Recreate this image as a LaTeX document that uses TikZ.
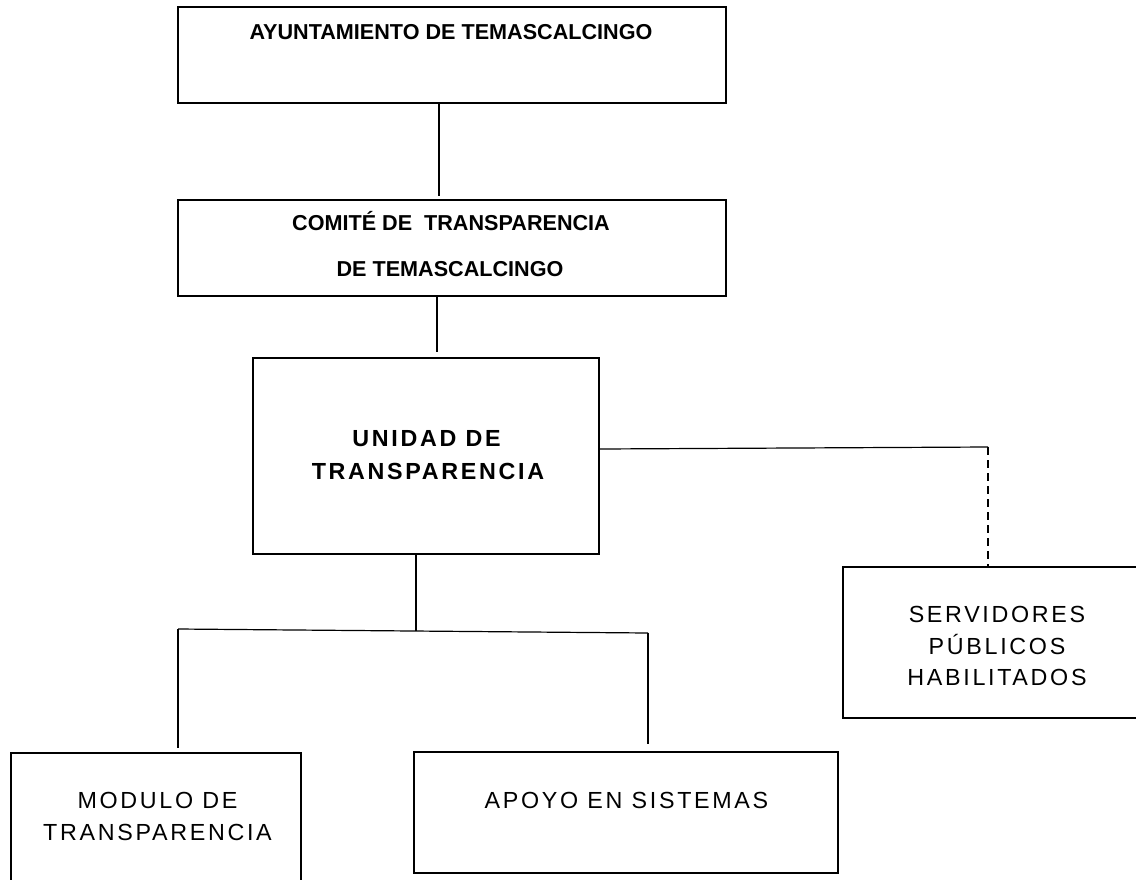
\documentclass[tikz,border=0pt]{standalone}
\usepackage{fontspec}
\setmainfont{Liberation Sans}
\newfontfamily\spaced[LetterSpace=11.5]{Liberation Sans}
\begin{document}
\begin{tikzpicture}[x=1pt,y=-1pt,
  thinbox/.style={draw=black, line width=1.3pt, inner sep=0pt, fill=none},
  thickbox/.style={draw=black, line width=2pt, inner sep=0pt, fill=none},
  conn/.style={draw=black, line width=1.2pt},
  dashconn/.style={draw=black, line width=1.5pt, dash pattern=on 8pt off 5pt},
  boldlab/.style={anchor=base, inner sep=0pt, font=\fontsize{21.6pt}{26pt}\selectfont\bfseries},
  spbold/.style={anchor=base, inner sep=0pt, font=\spaced\fontsize{23.3pt}{28pt}\selectfont\bfseries},
  splab/.style={anchor=base, inner sep=0pt, font=\spaced\fontsize{23.3pt}{28pt}\selectfont}]
\useasboundingbox (0,0) rectangle (1136,879);
\fill[white] (0,0) rectangle (1136,879);
\clip (0,0) rectangle (1136,879);

% boxes
\node[thinbox, minimum width=548pt, minimum height=96pt] (b1) at (452,55) {};
\node[thinbox, minimum width=548pt, minimum height=96pt] (b2) at (452,248) {};
\node[thickbox, minimum width=346pt, minimum height=196pt] (b3) at (426,456) {};
\node[thickbox, minimum width=303pt, minimum height=151pt] (serv) at (994.5,642.5) {};
\node[thickbox, minimum width=290pt, minimum height=142pt] (mod) at (156,824) {};
\node[thickbox, minimum width=424pt, minimum height=121pt] (apo) at (626,812.5) {};

% labels
\node[boldlab] (t1) at (451,39) {AYUNTAMIENTO DE TEMASCALCINGO};
\node[boldlab] (t2a) at (451,230) {COMITÉ DE\ \ TRANSPARENCIA};
\node[boldlab] (t2b) at (450,276) {DE TEMASCALCINGO};
\node[spbold] (t3a) at (426.5,446) {UNIDAD DE};
\node[spbold] (t3b) at (428,479) {TRANSPARENCIA};
\node[splab] (s1) at (997,622) {SERVIDORES};
\node[splab] (s2) at (997,654) {PÚBLICOS};
\node[splab] (s3) at (997,685) {HABILITADOS};
\node[splab] (m1) at (157.5,808) {MODULO DE};
\node[splab] (m2) at (157.5,840) {TRANSPARENCIA};
\node[splab] (a1) at (626.5,808) {APOYO EN SISTEMAS};

% junction coordinates
\coordinate (c1) at (439,0);
\coordinate (c2) at (437,0);
\coordinate (h3) at (988,447);
\coordinate (j4) at (416,631);
\coordinate (hL) at (178,629);
\coordinate (hR) at (648,633);

% connectors
\draw[conn] (b1.south -| c1) -- ([yshift=3pt]b2.north -| c1);
\draw[conn] (b2.south -| c2) -- ([yshift=5pt]b3.north -| c2);
\draw[conn] ([yshift=7pt]b3.east) -- (h3);
\draw[dashconn] (h3) -- (serv.north -| h3);
\draw[conn] (b3.south -| j4) -- (j4);
\draw[conn] (hL) -- (hR);
\draw[conn] (hL) -- ([yshift=4pt]mod.north -| hL);
\draw[conn] (hR) -- ([yshift=7pt]apo.north -| hR);
\end{tikzpicture}
\end{document}
